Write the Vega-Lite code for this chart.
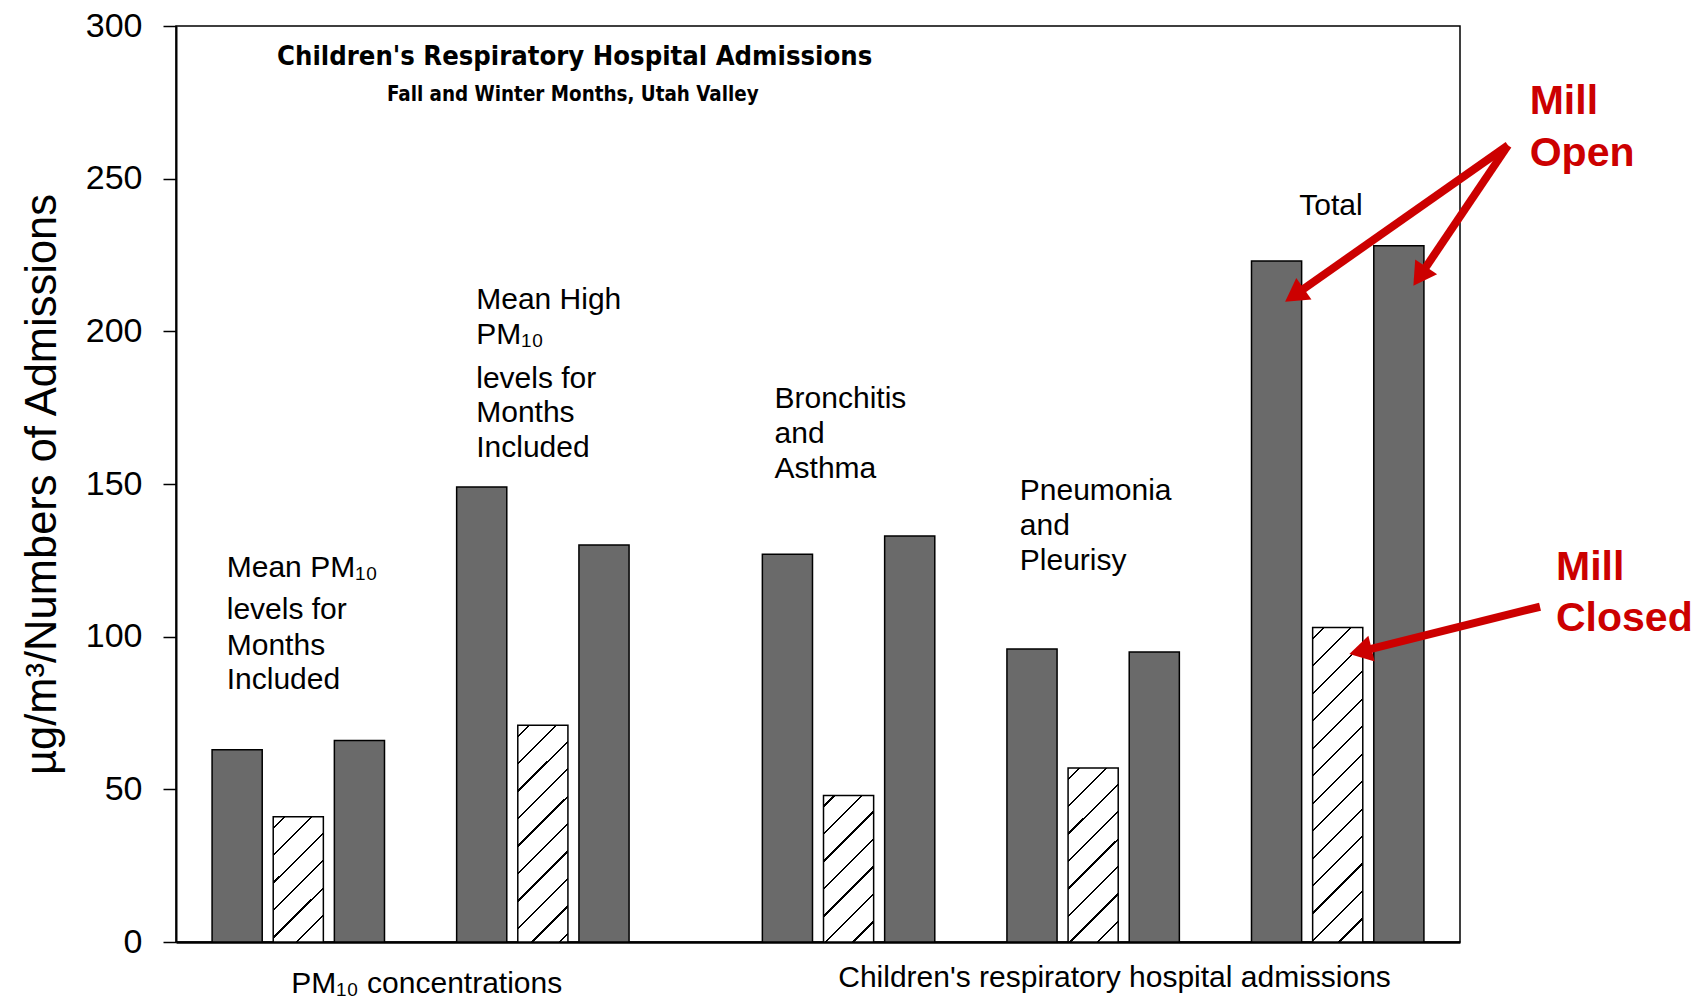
{
  "$schema": "https://vega.github.io/schema/vega-lite/v6.json",
  "width": 1284,
  "height": 916,
  "autosize": {"type": "none"},
  "padding": {"left": 176, "top": 26, "right": 241, "bottom": 61},
  "background": "white",
  "config": {"view": {"stroke": "black", "strokeWidth": 1.5}, "font": "Liberation Sans"},
  "datasets": {
    "bars": [
      {"slot": "PM10 mean, mill open", "measure": "Mean PM10", "period": "Mill open", "value": 63},
      {"slot": "PM10 mean, mill closed", "measure": "Mean PM10", "period": "Mill closed", "value": 41},
      {"slot": "PM10 mean, mill reopened", "measure": "Mean PM10", "period": "Mill reopened", "value": 66},
      {"slot": "PM10 high, mill open", "measure": "Mean high PM10", "period": "Mill open", "value": 149},
      {"slot": "PM10 high, mill closed", "measure": "Mean high PM10", "period": "Mill closed", "value": 71},
      {"slot": "PM10 high, mill reopened", "measure": "Mean high PM10", "period": "Mill reopened", "value": 130},
      {"slot": "Bronchitis/asthma, mill open", "measure": "Bronchitis and asthma", "period": "Mill open", "value": 127},
      {"slot": "Bronchitis/asthma, mill closed", "measure": "Bronchitis and asthma", "period": "Mill closed", "value": 48},
      {"slot": "Bronchitis/asthma, mill reopened", "measure": "Bronchitis and asthma", "period": "Mill reopened", "value": 133},
      {"slot": "Pneumonia/pleurisy, mill open", "measure": "Pneumonia and pleurisy", "period": "Mill open", "value": 96},
      {"slot": "Pneumonia/pleurisy, mill closed", "measure": "Pneumonia and pleurisy", "period": "Mill closed", "value": 57},
      {"slot": "Pneumonia/pleurisy, mill reopened", "measure": "Pneumonia and pleurisy", "period": "Mill reopened", "value": 95},
      {"slot": "Total, mill open", "measure": "Total", "period": "Mill open", "value": 223},
      {"slot": "Total, mill closed", "measure": "Total", "period": "Mill closed", "value": 103},
      {"slot": "Total, mill reopened", "measure": "Total", "period": "Mill reopened", "value": 228}
    ],
    "notes": [
      {"kind": "title", "text": "Children's Respiratory Hospital Admissions", "x": 6.52, "y": 287.1},
      {"kind": "subtitle", "text": "Fall and Winter Months, Utah Valley", "x": 6.49, "y": 275.4},
      {"kind": "inner", "text": "Mean PM₁₀", "x": 0.83, "y": 119.7},
      {"kind": "inner", "text": "levels for", "x": 0.83, "y": 105.7},
      {"kind": "inner", "text": "Months", "x": 0.83, "y": 94.0},
      {"kind": "inner", "text": "Included", "x": 0.83, "y": 82.9},
      {"kind": "inner", "text": "Mean High", "x": 4.91, "y": 207.2},
      {"kind": "inner", "text": "PM₁₀", "x": 4.91, "y": 195.8},
      {"kind": "inner", "text": "levels for", "x": 4.91, "y": 181.6},
      {"kind": "inner", "text": "Months", "x": 4.91, "y": 170.2},
      {"kind": "inner", "text": "Included", "x": 4.91, "y": 158.9},
      {"kind": "inner", "text": "Bronchitis", "x": 9.79, "y": 174.8},
      {"kind": "inner", "text": "and", "x": 9.79, "y": 163.5},
      {"kind": "inner", "text": "Asthma", "x": 9.79, "y": 152.1},
      {"kind": "inner", "text": "Pneumonia", "x": 13.8, "y": 144.7},
      {"kind": "inner", "text": "and", "x": 13.8, "y": 133.3},
      {"kind": "inner", "text": "Pleurisy", "x": 13.8, "y": 121.95},
      {"kind": "inner", "text": "Total", "x": 18.37, "y": 238.0},
      {"kind": "group", "text": "PM₁₀ concentrations", "x": 4.1, "y": -16.8},
      {"kind": "group", "text": "Children's respiratory hospital admissions", "x": 15.35, "y": -14.6},
      {"kind": "red", "text": "Mill", "x": 22.14, "y": 271.3},
      {"kind": "red", "text": "Open", "x": 22.14, "y": 254.1},
      {"kind": "red", "text": "Mill", "x": 22.57, "y": 118.4},
      {"kind": "red", "text": "Closed", "x": 22.57, "y": 101.9}
    ],
    "arrows": [
      {"arrow": "open-1", "x": 21.785, "y": 260.9, "x2": 18.37, "y2": 212.9, "hx": 18.293, "hy": 211.8},
      {"arrow": "open-2", "x": 21.785, "y": 260.9, "x2": 20.394, "y2": 219.6, "hx": 20.342, "hy": 218.0},
      {"arrow": "closed", "x": 22.309, "y": 109.8, "x2": 19.464, "y2": 95.6, "hx": 19.372, "hy": 95.2}
    ]
  },
  "layer": [
    {
      "data": {"name": "bars"},
      "encoding": {
        "x": {
          "field": "slot", "type": "nominal", "sort": null,
          "scale": {
            "domain": ["PM10 mean, mill open", "PM10 mean, mill closed", "PM10 mean, mill reopened", "gap 1",
                       "PM10 high, mill open", "PM10 high, mill closed", "PM10 high, mill reopened", "gap 2", "gap 3",
                       "Bronchitis/asthma, mill open", "Bronchitis/asthma, mill closed", "Bronchitis/asthma, mill reopened", "gap 4",
                       "Pneumonia/pleurisy, mill open", "Pneumonia/pleurisy, mill closed", "Pneumonia/pleurisy, mill reopened", "gap 5",
                       "Total, mill open", "Total, mill closed", "Total, mill reopened"],
            "paddingInner": 0.18, "paddingOuter": 0.59
          },
          "axis": {"title": null, "labels": false, "ticks": false, "domainColor": "black", "domainWidth": 2.5}
        },
        "y": {
          "field": "value", "type": "quantitative",
          "scale": {"domain": [0, 300], "nice": false},
          "axis": {
            "title": "µg/m³/Numbers of Admissions",
            "values": [0, 50, 100, 150, 200, 250, 300],
            "grid": false,
            "domainColor": "black", "domainWidth": 2,
            "tickColor": "black", "tickSize": 13, "tickWidth": 1.5,
            "labelFont": "Liberation Sans", "labelFontSize": 34, "labelColor": "black", "labelPadding": 21,
            "titleFont": "Liberation Sans", "titleFontSize": 43.5, "titleFontWeight": "normal", "titleColor": "black", "titlePadding": 21
          }
        }
      },
      "layer": [
        {"transform": [{"filter": "datum.period !== 'Mill closed'"}],
         "mark": {"type": "bar", "fill": "#6a6a6a", "stroke": "black", "strokeWidth": 1.5}},
        {"transform": [{"filter": "datum.slot === 'PM10 mean, mill closed'"}],
         "mark": {"type": "bar", "stroke": "black", "strokeWidth": 1.5,
           "fill": {"gradient": "linear", "x1": 0, "y1": 0, "x2": 0.483, "y2": 1.207, "stops": [
             {"offset": 0, "color": "#fff"},
             {"offset": 0.057, "color": "#fff"}, {"offset": 0.057, "color": "#000"}, {"offset": 0.0696, "color": "#000"}, {"offset": 0.0696, "color": "#fff"},
             {"offset": 0.2138, "color": "#fff"}, {"offset": 0.2138, "color": "#000"}, {"offset": 0.2263, "color": "#000"}, {"offset": 0.2263, "color": "#fff"},
             {"offset": 0.3706, "color": "#fff"}, {"offset": 0.3706, "color": "#000"}, {"offset": 0.3831, "color": "#000"}, {"offset": 0.3831, "color": "#fff"},
             {"offset": 0.5274, "color": "#fff"}, {"offset": 0.5274, "color": "#000"}, {"offset": 0.5399, "color": "#000"}, {"offset": 0.5399, "color": "#fff"},
             {"offset": 0.6842, "color": "#fff"}, {"offset": 0.6842, "color": "#000"}, {"offset": 0.6967, "color": "#000"}, {"offset": 0.6967, "color": "#fff"},
             {"offset": 0.8409, "color": "#fff"}, {"offset": 0.8409, "color": "#000"}, {"offset": 0.8535, "color": "#000"}, {"offset": 0.8535, "color": "#fff"},
             {"offset": 1, "color": "#fff"}]}}},
        {"transform": [{"filter": "datum.slot === 'PM10 high, mill closed'"}],
         "mark": {"type": "bar", "stroke": "black", "strokeWidth": 1.5,
           "fill": {"gradient": "linear", "x1": 0, "y1": 0, "x2": 0.2699, "y2": 1.1687, "stops": [
             {"offset": 0, "color": "#fff"},
             {"offset": 0.0375, "color": "#fff"}, {"offset": 0.0375, "color": "#000"}, {"offset": 0.0457, "color": "#000"}, {"offset": 0.0457, "color": "#fff"},
             {"offset": 0.1404, "color": "#fff"}, {"offset": 0.1404, "color": "#000"}, {"offset": 0.1487, "color": "#000"}, {"offset": 0.1487, "color": "#fff"},
             {"offset": 0.2434, "color": "#fff"}, {"offset": 0.2434, "color": "#000"}, {"offset": 0.2517, "color": "#000"}, {"offset": 0.2517, "color": "#fff"},
             {"offset": 0.3464, "color": "#fff"}, {"offset": 0.3464, "color": "#000"}, {"offset": 0.3547, "color": "#000"}, {"offset": 0.3547, "color": "#fff"},
             {"offset": 0.4494, "color": "#fff"}, {"offset": 0.4494, "color": "#000"}, {"offset": 0.4577, "color": "#000"}, {"offset": 0.4577, "color": "#fff"},
             {"offset": 0.5524, "color": "#fff"}, {"offset": 0.5524, "color": "#000"}, {"offset": 0.5607, "color": "#000"}, {"offset": 0.5607, "color": "#fff"},
             {"offset": 0.6554, "color": "#fff"}, {"offset": 0.6554, "color": "#000"}, {"offset": 0.6637, "color": "#000"}, {"offset": 0.6637, "color": "#fff"},
             {"offset": 0.7584, "color": "#fff"}, {"offset": 0.7584, "color": "#000"}, {"offset": 0.7667, "color": "#000"}, {"offset": 0.7667, "color": "#fff"},
             {"offset": 0.8614, "color": "#fff"}, {"offset": 0.8614, "color": "#000"}, {"offset": 0.8697, "color": "#000"}, {"offset": 0.8697, "color": "#fff"},
             {"offset": 0.9644, "color": "#fff"}, {"offset": 0.9644, "color": "#000"}, {"offset": 0.9727, "color": "#000"}, {"offset": 0.9727, "color": "#fff"},
             {"offset": 1, "color": "#fff"}]}}},
        {"transform": [{"filter": "datum.slot === 'Bronchitis/asthma, mill closed'"}],
         "mark": {"type": "bar", "stroke": "black", "strokeWidth": 1.5,
           "fill": {"gradient": "linear", "x1": 0, "y1": 0, "x2": 0.4103, "y2": 1.2014, "stops": [
             {"offset": 0, "color": "#fff"},
             {"offset": 0.0508, "color": "#fff"}, {"offset": 0.0508, "color": "#000"}, {"offset": 0.062, "color": "#000"}, {"offset": 0.062, "color": "#fff"},
             {"offset": 0.1905, "color": "#fff"}, {"offset": 0.1905, "color": "#000"}, {"offset": 0.2017, "color": "#000"}, {"offset": 0.2017, "color": "#fff"},
             {"offset": 0.3303, "color": "#fff"}, {"offset": 0.3303, "color": "#000"}, {"offset": 0.3415, "color": "#000"}, {"offset": 0.3415, "color": "#fff"},
             {"offset": 0.47, "color": "#fff"}, {"offset": 0.47, "color": "#000"}, {"offset": 0.4812, "color": "#000"}, {"offset": 0.4812, "color": "#fff"},
             {"offset": 0.6098, "color": "#fff"}, {"offset": 0.6098, "color": "#000"}, {"offset": 0.6209, "color": "#000"}, {"offset": 0.6209, "color": "#fff"},
             {"offset": 0.7495, "color": "#fff"}, {"offset": 0.7495, "color": "#000"}, {"offset": 0.7607, "color": "#000"}, {"offset": 0.7607, "color": "#fff"},
             {"offset": 0.8892, "color": "#fff"}, {"offset": 0.8892, "color": "#000"}, {"offset": 0.9004, "color": "#000"}, {"offset": 0.9004, "color": "#fff"},
             {"offset": 1, "color": "#fff"}]}}},
        {"transform": [{"filter": "datum.slot === 'Pneumonia/pleurisy, mill closed'"}],
         "mark": {"type": "bar", "stroke": "black", "strokeWidth": 1.5,
           "fill": {"gradient": "linear", "x1": 0, "y1": 0, "x2": 0.342, "y2": 1.1892, "stops": [
             {"offset": 0, "color": "#fff"},
             {"offset": 0.0446, "color": "#fff"}, {"offset": 0.0446, "color": "#000"}, {"offset": 0.0544, "color": "#000"}, {"offset": 0.0544, "color": "#fff"},
             {"offset": 0.1672, "color": "#fff"}, {"offset": 0.1672, "color": "#000"}, {"offset": 0.177, "color": "#000"}, {"offset": 0.177, "color": "#fff"},
             {"offset": 0.2898, "color": "#fff"}, {"offset": 0.2898, "color": "#000"}, {"offset": 0.2996, "color": "#000"}, {"offset": 0.2996, "color": "#fff"},
             {"offset": 0.4124, "color": "#fff"}, {"offset": 0.4124, "color": "#000"}, {"offset": 0.4222, "color": "#000"}, {"offset": 0.4222, "color": "#fff"},
             {"offset": 0.535, "color": "#fff"}, {"offset": 0.535, "color": "#000"}, {"offset": 0.5448, "color": "#000"}, {"offset": 0.5448, "color": "#fff"},
             {"offset": 0.6576, "color": "#fff"}, {"offset": 0.6576, "color": "#000"}, {"offset": 0.6674, "color": "#000"}, {"offset": 0.6674, "color": "#fff"},
             {"offset": 0.7802, "color": "#fff"}, {"offset": 0.7802, "color": "#000"}, {"offset": 0.79, "color": "#000"}, {"offset": 0.79, "color": "#fff"},
             {"offset": 0.9028, "color": "#fff"}, {"offset": 0.9028, "color": "#000"}, {"offset": 0.9126, "color": "#000"}, {"offset": 0.9126, "color": "#fff"},
             {"offset": 1, "color": "#fff"}]}}},
        {"transform": [{"filter": "datum.slot === 'Total, mill closed'"}],
         "mark": {"type": "bar", "stroke": "black", "strokeWidth": 1.5,
           "fill": {"gradient": "linear", "x1": 0, "y1": 0, "x2": 0.18, "y2": 1.1305, "stops": [
             {"offset": 0, "color": "#fff"},
             {"offset": 0.0274, "color": "#fff"}, {"offset": 0.0274, "color": "#000"}, {"offset": 0.0334, "color": "#000"}, {"offset": 0.0334, "color": "#fff"},
             {"offset": 0.1028, "color": "#fff"}, {"offset": 0.1028, "color": "#000"}, {"offset": 0.1088, "color": "#000"}, {"offset": 0.1088, "color": "#fff"},
             {"offset": 0.1782, "color": "#fff"}, {"offset": 0.1782, "color": "#000"}, {"offset": 0.1842, "color": "#000"}, {"offset": 0.1842, "color": "#fff"},
             {"offset": 0.2536, "color": "#fff"}, {"offset": 0.2536, "color": "#000"}, {"offset": 0.2596, "color": "#000"}, {"offset": 0.2596, "color": "#fff"},
             {"offset": 0.3289, "color": "#fff"}, {"offset": 0.3289, "color": "#000"}, {"offset": 0.335, "color": "#000"}, {"offset": 0.335, "color": "#fff"},
             {"offset": 0.4043, "color": "#fff"}, {"offset": 0.4043, "color": "#000"}, {"offset": 0.4103, "color": "#000"}, {"offset": 0.4103, "color": "#fff"},
             {"offset": 0.4797, "color": "#fff"}, {"offset": 0.4797, "color": "#000"}, {"offset": 0.4857, "color": "#000"}, {"offset": 0.4857, "color": "#fff"},
             {"offset": 0.5551, "color": "#fff"}, {"offset": 0.5551, "color": "#000"}, {"offset": 0.5611, "color": "#000"}, {"offset": 0.5611, "color": "#fff"},
             {"offset": 0.6305, "color": "#fff"}, {"offset": 0.6305, "color": "#000"}, {"offset": 0.6365, "color": "#000"}, {"offset": 0.6365, "color": "#fff"},
             {"offset": 0.7059, "color": "#fff"}, {"offset": 0.7059, "color": "#000"}, {"offset": 0.7119, "color": "#000"}, {"offset": 0.7119, "color": "#fff"},
             {"offset": 0.7812, "color": "#fff"}, {"offset": 0.7812, "color": "#000"}, {"offset": 0.7873, "color": "#000"}, {"offset": 0.7873, "color": "#fff"},
             {"offset": 0.8566, "color": "#fff"}, {"offset": 0.8566, "color": "#000"}, {"offset": 0.8627, "color": "#000"}, {"offset": 0.8627, "color": "#fff"},
             {"offset": 0.932, "color": "#fff"}, {"offset": 0.932, "color": "#000"}, {"offset": 0.938, "color": "#000"}, {"offset": 0.938, "color": "#fff"},
             {"offset": 1, "color": "#fff"}]}}}
      ]
    },
    {
      "layer": [
        {
          "data": {"name": "notes"},
          "transform": [{"filter": "datum.kind === 'title'"}],
          "mark": {"type": "text", "font": "DejaVu Sans Condensed, Liberation Sans", "fontWeight": "bold", "fontSize": 27.2, "align": "center", "baseline": "alphabetic", "fill": "black"},
          "encoding": {
            "x": {"field": "x", "type": "quantitative", "scale": {"domain": [0, 21], "nice": false, "zero": false}, "axis": null},
            "y": {"field": "y", "type": "quantitative", "scale": {"domain": [0, 300], "nice": false}, "axis": null},
            "text": {"field": "text"}
          }
        },
        {
          "data": {"name": "notes"},
          "transform": [{"filter": "datum.kind === 'subtitle'"}],
          "mark": {"type": "text", "font": "DejaVu Sans Condensed, Liberation Sans", "fontWeight": "bold", "fontSize": 20.4, "align": "center", "baseline": "alphabetic", "fill": "black"},
          "encoding": {
            "x": {"field": "x", "type": "quantitative", "scale": {"domain": [0, 21], "nice": false, "zero": false}, "axis": null},
            "y": {"field": "y", "type": "quantitative", "scale": {"domain": [0, 300], "nice": false}, "axis": null},
            "text": {"field": "text"}
          }
        },
        {
          "data": {"name": "notes"},
          "transform": [{"filter": "datum.kind === 'inner'"}],
          "mark": {"type": "text", "font": "Liberation Sans", "fontSize": 30, "align": "left", "baseline": "alphabetic", "fill": "black"},
          "encoding": {
            "x": {"field": "x", "type": "quantitative", "scale": {"domain": [0, 21], "nice": false, "zero": false}, "axis": null},
            "y": {"field": "y", "type": "quantitative", "scale": {"domain": [0, 300], "nice": false}, "axis": null},
            "text": {"field": "text"}
          }
        },
        {
          "data": {"name": "notes"},
          "transform": [{"filter": "datum.kind === 'group'"}],
          "mark": {"type": "text", "font": "Liberation Sans", "fontSize": 30, "align": "center", "baseline": "alphabetic", "fill": "black"},
          "encoding": {
            "x": {"field": "x", "type": "quantitative", "scale": {"domain": [0, 21], "nice": false, "zero": false}, "axis": null},
            "y": {"field": "y", "type": "quantitative", "scale": {"domain": [0, 300], "nice": false}, "axis": null},
            "text": {"field": "text"}
          }
        },
        {
          "data": {"name": "notes"},
          "transform": [{"filter": "datum.kind === 'red'"}],
          "mark": {"type": "text", "font": "Liberation Sans", "fontWeight": "bold", "fontSize": 41, "align": "left", "baseline": "alphabetic", "fill": "#cc0000"},
          "encoding": {
            "x": {"field": "x", "type": "quantitative", "scale": {"domain": [0, 21], "nice": false, "zero": false}, "axis": null},
            "y": {"field": "y", "type": "quantitative", "scale": {"domain": [0, 300], "nice": false}, "axis": null},
            "text": {"field": "text"}
          }
        },
        {
          "data": {"name": "arrows"},
          "mark": {"type": "rule", "stroke": "#cc0000", "strokeWidth": 8, "strokeCap": "butt"},
          "encoding": {
            "x": {"field": "x", "type": "quantitative", "scale": {"domain": [0, 21], "nice": false, "zero": false}, "axis": null},
            "y": {"field": "y", "type": "quantitative", "scale": {"domain": [0, 300], "nice": false}, "axis": null},
            "x2": {"field": "x2"},
            "y2": {"field": "y2"}
          }
        },
        {
          "data": {"name": "arrows"},
          "transform": [{"filter": "datum.arrow === 'open-1'"}],
          "mark": {"type": "point", "shape": "triangle-up", "filled": true, "fill": "#cc0000", "stroke": null, "opacity": 1, "size": 700, "angle": 235},
          "encoding": {
            "x": {"field": "hx", "type": "quantitative", "scale": {"domain": [0, 21], "nice": false, "zero": false}, "axis": null},
            "y": {"field": "hy", "type": "quantitative", "scale": {"domain": [0, 300], "nice": false}, "axis": null}
          }
        },
        {
          "data": {"name": "arrows"},
          "transform": [{"filter": "datum.arrow === 'open-2'"}],
          "mark": {"type": "point", "shape": "triangle-up", "filled": true, "fill": "#cc0000", "stroke": null, "opacity": 1, "size": 700, "angle": 214},
          "encoding": {
            "x": {"field": "hx", "type": "quantitative", "scale": {"domain": [0, 21], "nice": false, "zero": false}, "axis": null},
            "y": {"field": "hy", "type": "quantitative", "scale": {"domain": [0, 300], "nice": false}, "axis": null}
          }
        },
        {
          "data": {"name": "arrows"},
          "transform": [{"filter": "datum.arrow === 'closed'"}],
          "mark": {"type": "point", "shape": "triangle-up", "filled": true, "fill": "#cc0000", "stroke": null, "opacity": 1, "size": 700, "angle": 256},
          "encoding": {
            "x": {"field": "hx", "type": "quantitative", "scale": {"domain": [0, 21], "nice": false, "zero": false}, "axis": null},
            "y": {"field": "hy", "type": "quantitative", "scale": {"domain": [0, 300], "nice": false}, "axis": null}
          }
        }
      ]
    }
  ],
  "resolve": {"scale": {"x": "independent"}, "axis": {"x": "independent", "y": "independent"}}
}
